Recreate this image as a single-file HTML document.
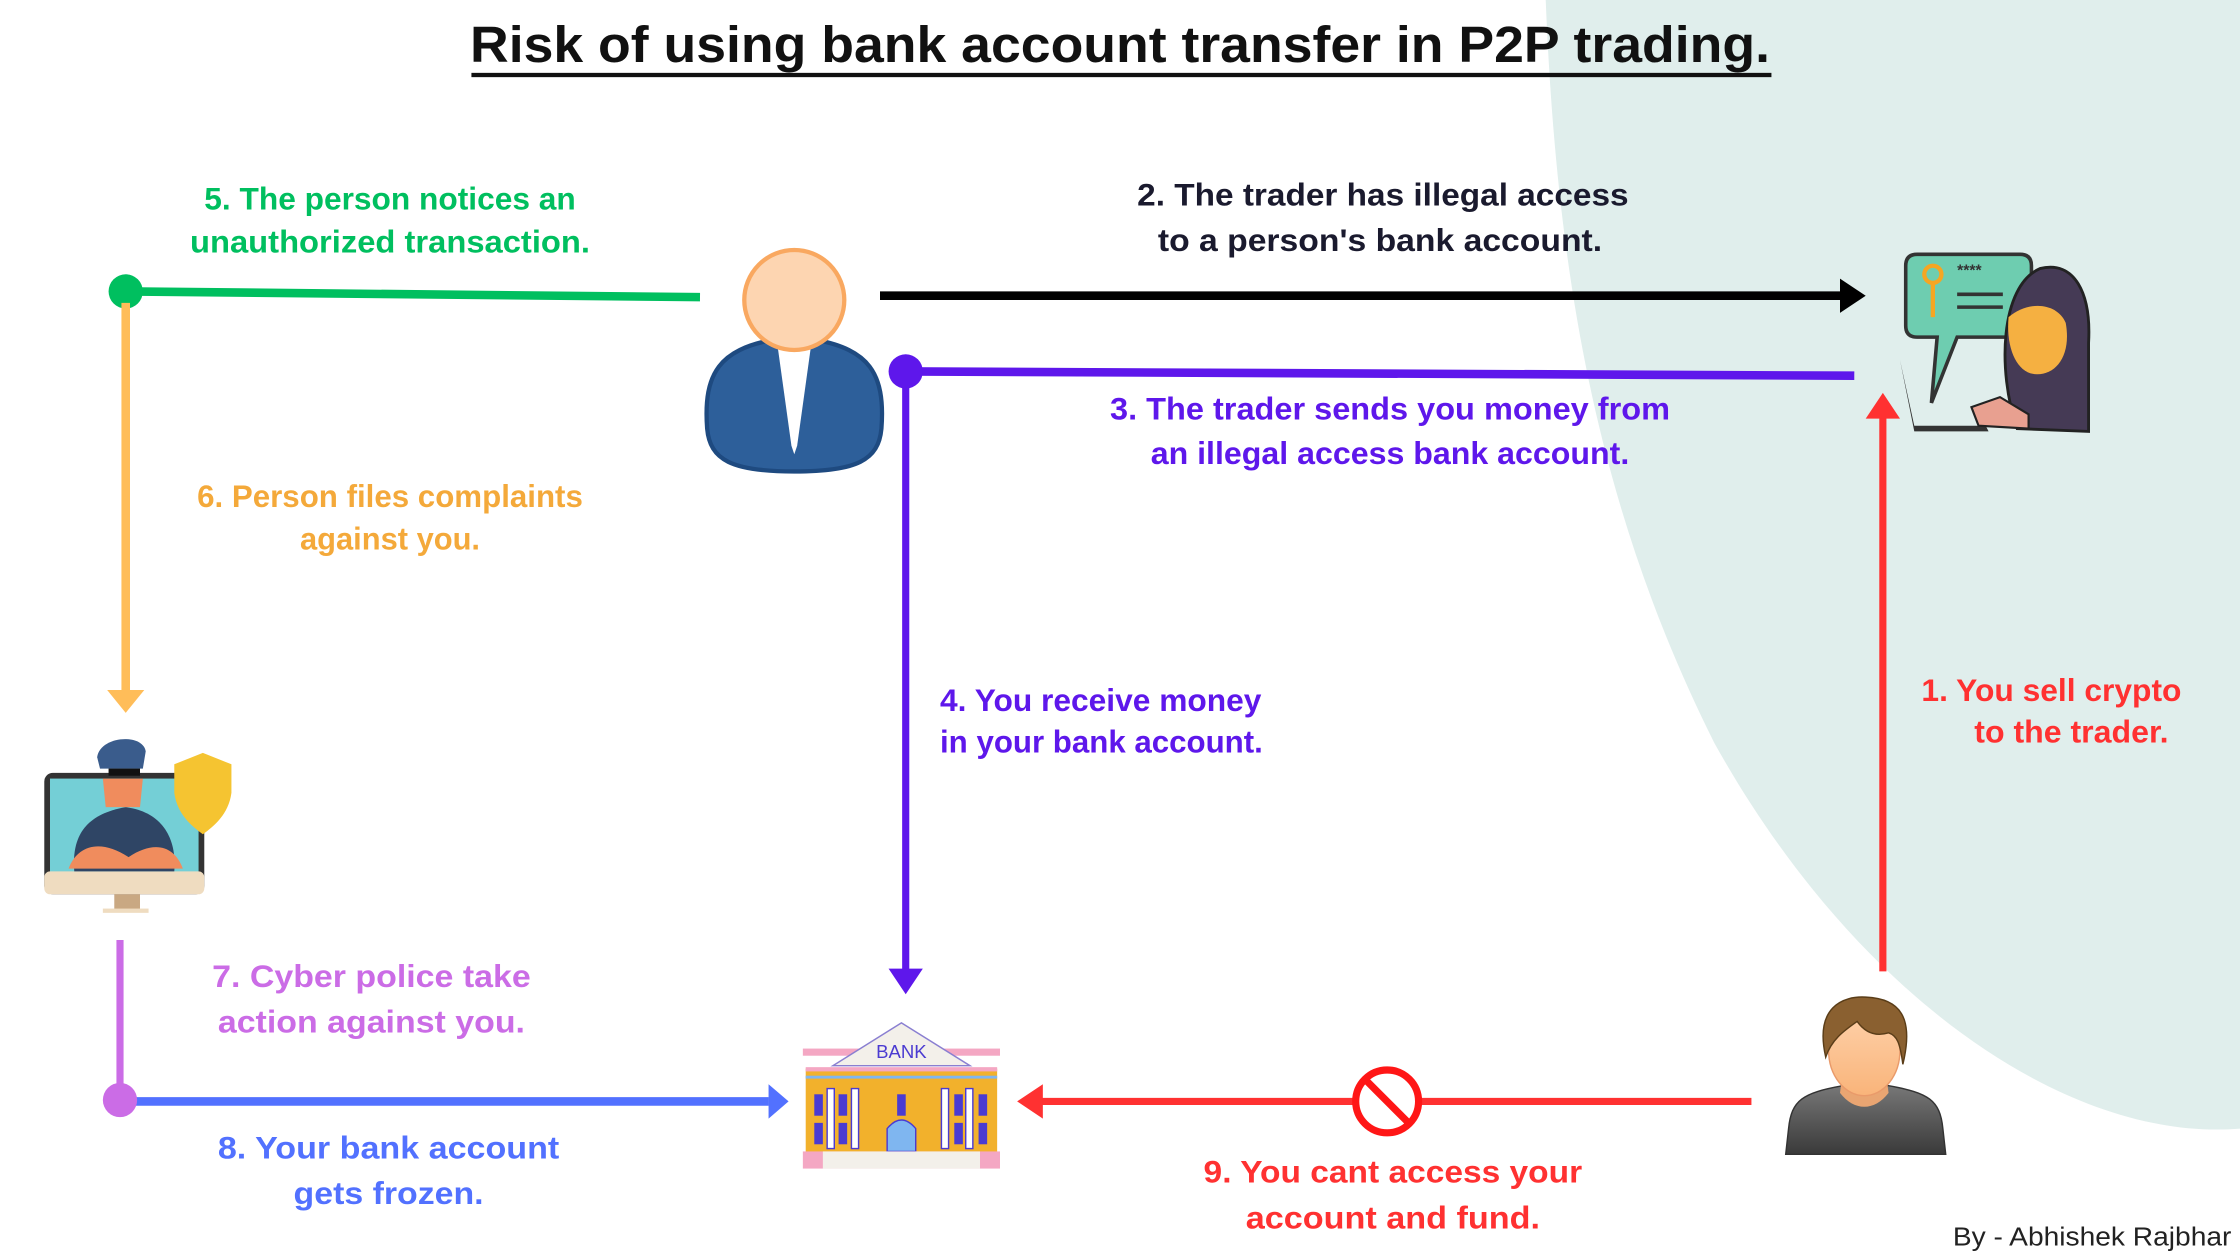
<!DOCTYPE html>
<html><head><meta charset="utf-8"><style>
html,body{margin:0;padding:0;background:#fff;}
svg{display:block;}
text{font-family:"Liberation Sans",sans-serif;font-weight:bold;dominant-baseline:middle;}
</style></head><body>
<svg width="2240" height="1260" viewBox="0 0 1568 882" xmlns="http://www.w3.org/2000/svg">
<rect width="1568" height="882" fill="#fff"/>
<!-- teal background -->
<path d="M1082 0 L1568 0 L1568 790 C1450 800 1300 700 1200 520 C1120 360 1090 200 1082 0 Z" fill="#e0eeec"/>

<!-- title -->
<text x="784" y="34" font-size="36" fill="#111" text-anchor="middle" textLength="910" lengthAdjust="spacingAndGlyphs">Risk of using bank account transfer in P2P trading.</text>
<rect x="330" y="51" width="910" height="3" fill="#111"/>

<!-- green -->
<line x1="88" y1="204" x2="490" y2="208" stroke="#00bf5f" stroke-width="6"/>
<circle cx="88" cy="204" r="12" fill="#00bf5f"/>
<text x="273" y="141" font-size="22" fill="#00bf5f" text-anchor="middle" textLength="260" lengthAdjust="spacingAndGlyphs">5. The person notices an</text>
<text x="273" y="171" font-size="22" fill="#00bf5f" text-anchor="middle" textLength="280" lengthAdjust="spacingAndGlyphs">unauthorized transaction.</text>

<!-- orange -->
<line x1="88" y1="212" x2="88" y2="488" stroke="#ffbd59" stroke-width="6"/>
<path d="M75 483 L101 483 L88 499 Z" fill="#ffbd59"/>
<text x="273" y="349" font-size="22" fill="#f4a93a" text-anchor="middle" textLength="270" lengthAdjust="spacingAndGlyphs">6. Person files complaints</text>
<text x="273" y="379" font-size="22" fill="#f4a93a" text-anchor="middle" textLength="126" lengthAdjust="spacingAndGlyphs">against you.</text>

<!-- businessman -->
<path d="M495 300 C492 260 505 245 540 238 L572 238 C607 245 620 260 617 300 C615 322 600 330 556 330 C512 330 497 322 495 300 Z" fill="#2d5f9a" stroke="#1e4a80" stroke-width="3"/>
<path d="M544 240 L568 240 L558 312 L556 318 L554 312 Z" fill="#fff"/>
<circle cx="556" cy="210" r="35" fill="#fdd5b1" stroke="#f9a860" stroke-width="3"/>

<!-- black arrow -->
<line x1="616" y1="207" x2="1292" y2="207" stroke="#000" stroke-width="6"/>
<path d="M1288 195 L1306 207 L1288 219 Z" fill="#000"/>
<text x="968" y="138" font-size="22" fill="#1a1a2e" text-anchor="middle" textLength="344" lengthAdjust="spacingAndGlyphs">2. The trader has illegal access</text>
<text x="966" y="170" font-size="22" fill="#1a1a2e" text-anchor="middle" textLength="311" lengthAdjust="spacingAndGlyphs">to a person's bank account.</text>

<!-- purple -->
<line x1="634" y1="260" x2="1298" y2="263" stroke="#5e17eb" stroke-width="6"/>
<line x1="634" y1="260" x2="634" y2="683" stroke="#5e17eb" stroke-width="5"/>
<circle cx="634" cy="260" r="12" fill="#5e17eb"/>
<path d="M622 678 L646 678 L634 696 Z" fill="#5e17eb"/>
<text x="973" y="288" font-size="22" fill="#5e17eb" text-anchor="middle" textLength="392" lengthAdjust="spacingAndGlyphs">3. The trader sends you money from</text>
<text x="973" y="319" font-size="22" fill="#5e17eb" text-anchor="middle" textLength="335" lengthAdjust="spacingAndGlyphs">an illegal access bank account.</text>
<text x="658" y="492" font-size="22" fill="#5e17eb" textLength="225" lengthAdjust="spacingAndGlyphs">4. You receive money</text>
<text x="658" y="521" font-size="22" fill="#5e17eb" textLength="226" lengthAdjust="spacingAndGlyphs">in your bank account.</text>

<!-- hacker icon -->
<g>
<path d="M1342 178 L1414 178 Q1422 178 1422 186 L1422 228 Q1422 236 1414 236 L1370 236 L1352 282 L1356 236 L1342 236 Q1334 236 1334 228 L1334 186 Q1334 178 1342 178 Z" fill="#6ecdb0" stroke="#333" stroke-width="2.5"/>
<circle cx="1353" cy="192" r="6" fill="none" stroke="#f5a623" stroke-width="3"/>
<line x1="1353" y1="198" x2="1353" y2="222" stroke="#f5a623" stroke-width="3"/>
<text x="1370" y="190" font-size="11" fill="#333">****</text>
<line x1="1370" y1="206" x2="1402" y2="206" stroke="#333" stroke-width="2.5"/>
<line x1="1370" y1="215" x2="1402" y2="215" stroke="#333" stroke-width="2.5"/>
<path d="M1412 300 C1398 260 1400 200 1428 188 C1452 182 1464 205 1462 240 L1462 302 Z" fill="#453a55" stroke="#222" stroke-width="2"/>
<path d="M1406 222 C1420 210 1440 212 1446 226 C1450 248 1440 262 1426 262 C1412 262 1404 244 1406 222 Z" fill="#f5b041"/>
<path d="M1330 252 L1340 298 L1390 298 L1392 302 L1340 302 Z" fill="#333"/>
<path d="M1380 285 L1400 278 L1420 290 L1420 300 L1385 298 Z" fill="#e8a090" stroke="#222" stroke-width="1.5"/>
</g>

<!-- red up arrow -->
<line x1="1318" y1="680" x2="1318" y2="290" stroke="#ff3131" stroke-width="5"/>
<path d="M1306 293 L1318 275 L1330 293 Z" fill="#ff3131"/>
<text x="1436" y="485" font-size="22" fill="#ff3131" text-anchor="middle" textLength="182" lengthAdjust="spacingAndGlyphs">1.  You sell crypto</text>
<text x="1450" y="514" font-size="22" fill="#ff3131" text-anchor="middle" textLength="136" lengthAdjust="spacingAndGlyphs">to the trader.</text>

<!-- person icon -->
<defs>
<linearGradient id="sh" x1="0" y1="0" x2="0" y2="1"><stop offset="0" stop-color="#777"/><stop offset="1" stop-color="#3a3a3a"/></linearGradient>
<linearGradient id="fc" x1="0" y1="0" x2="0" y2="1"><stop offset="0" stop-color="#ffd3ad"/><stop offset="1" stop-color="#f9b47a"/></linearGradient>
</defs>
<path d="M1250 808 L1252 790 C1254 770 1262 765 1290 760 L1322 760 C1350 765 1358 770 1360 790 L1362 808 Z" fill="url(#sh)" stroke="#333" stroke-width="1"/>
<path d="M1290 750 L1320 750 L1322 765 C1312 778 1298 778 1288 765 Z" fill="#e9a572"/>
<ellipse cx="1305" cy="735" rx="25" ry="32" fill="url(#fc)" stroke="#e99a6a" stroke-width="1"/>
<path d="M1278 740 C1270 705 1290 697 1306 698 C1330 699 1340 712 1332 745 C1330 730 1328 725 1322 723 C1312 726 1305 722 1300 715 C1290 722 1282 728 1278 740 Z" fill="#8a6030" stroke="#5a3d18" stroke-width="1"/>

<!-- red line left -->
<line x1="1226" y1="771" x2="726" y2="771" stroke="#ff3131" stroke-width="5"/>
<path d="M730 759 L712 771 L730 783 Z" fill="#ff3131"/>
<circle cx="971" cy="771" r="22" fill="#fff" stroke="#ff1616" stroke-width="5"/>
<line x1="956" y1="756" x2="986" y2="786" stroke="#ff1616" stroke-width="5"/>
<text x="975" y="822" font-size="22" fill="#ff3131" text-anchor="middle" textLength="265" lengthAdjust="spacingAndGlyphs">9. You cant access your</text>
<text x="975" y="854" font-size="22" fill="#ff3131" text-anchor="middle" textLength="206" lengthAdjust="spacingAndGlyphs">account and fund.</text>

<!-- bank -->
<g>
<rect x="564" y="748" width="134" height="60" fill="#f2b12c"/>
<rect x="562" y="734" width="138" height="5" fill="#f4a7c3"/>
<path d="M583 746 L631 716 L679 746 Z" fill="#f3f0ea" stroke="#8a7fd1" stroke-width="1"/>
<text x="631" y="737" font-size="13" font-weight="normal" fill="#4b3bd1" text-anchor="middle" style="font-weight:normal">BANK</text>
<rect x="564" y="747" width="134" height="3" fill="#f4a7c3"/>
<rect x="564" y="753" width="134" height="2" fill="#7fb6f0"/>
<g fill="#4b3bd1">
<rect x="570" y="766" width="6" height="15"/><rect x="587" y="766" width="6" height="15"/><rect x="628" y="766" width="6" height="15"/><rect x="668" y="766" width="6" height="15"/><rect x="685" y="766" width="6" height="15"/>
<rect x="570" y="786" width="6" height="15"/><rect x="587" y="786" width="6" height="15"/><rect x="668" y="786" width="6" height="15"/><rect x="685" y="786" width="6" height="15"/>
</g>
<g fill="#fff" stroke="#4b3bd1" stroke-width="1">
<rect x="579" y="762" width="5" height="42"/><rect x="596" y="762" width="5" height="42"/><rect x="659" y="762" width="5" height="42"/><rect x="676" y="762" width="5" height="42"/>
</g>
<path d="M621 806 L621 790 Q631 778 641 790 L641 806 Z" fill="#7fb6f0" stroke="#4b3bd1" stroke-width="1"/>
<rect x="562" y="806" width="138" height="12" fill="#f4a7c3"/>
<rect x="576" y="806" width="110" height="12" fill="#f3f0ea"/>
</g>

<!-- violet + blue -->
<line x1="84" y1="658" x2="84" y2="770" stroke="#cb6ce6" stroke-width="5"/>
<line x1="84" y1="771" x2="538" y2="771" stroke="#5271ff" stroke-width="6"/>
<path d="M538 759 L552 771 L538 783 Z" fill="#5271ff"/>
<circle cx="84" cy="770" r="12" fill="#cb6ce6"/>
<text x="260" y="685" font-size="22" fill="#cb6ce6" text-anchor="middle" textLength="223" lengthAdjust="spacingAndGlyphs">7. Cyber police take</text>
<text x="260" y="717" font-size="22" fill="#cb6ce6" text-anchor="middle" textLength="215" lengthAdjust="spacingAndGlyphs">action against you.</text>
<text x="272" y="805" font-size="22" fill="#5271ff" text-anchor="middle" textLength="239" lengthAdjust="spacingAndGlyphs">8. Your bank account</text>
<text x="272" y="837" font-size="22" fill="#5271ff" text-anchor="middle" textLength="133" lengthAdjust="spacingAndGlyphs">gets frozen.</text>

<!-- police icon -->
<g>
<rect x="31" y="541" width="112" height="85" rx="6" fill="#333"/>
<rect x="35" y="545" width="104" height="66" fill="#74cfd6"/>
<rect x="31" y="610" width="112" height="16" rx="4" fill="#efdcc0"/>
<rect x="80" y="626" width="18" height="12" fill="#c9a882"/>
<rect x="72" y="636" width="32" height="3" fill="#efdcc0"/>
<path d="M122 535 L142 527 L162 535 L162 555 C160 570 150 578 142 584 C134 578 124 570 122 555 Z" fill="#f5c431"/>
<path d="M52 610 C50 585 60 570 88 565 C112 568 124 585 122 610 Z" fill="#2f4565"/>
<path d="M48 608 C55 590 72 588 90 600 C108 588 122 592 128 608 Z" fill="#f08c5d"/>
<path d="M72 545 L100 545 L98 565 L74 565 Z" fill="#f08c5d"/>
<path d="M68 530 C70 515 100 513 102 526 L100 538 L70 538 Z" fill="#3a5c8c"/>
<rect x="76" y="538" width="22" height="5" fill="#111"/>
</g>

<text x="1562" y="867" font-size="18" fill="#222" text-anchor="end" style="font-weight:normal" textLength="195" lengthAdjust="spacingAndGlyphs">By - Abhishek Rajbhar</text>
</svg>
</body></html>
